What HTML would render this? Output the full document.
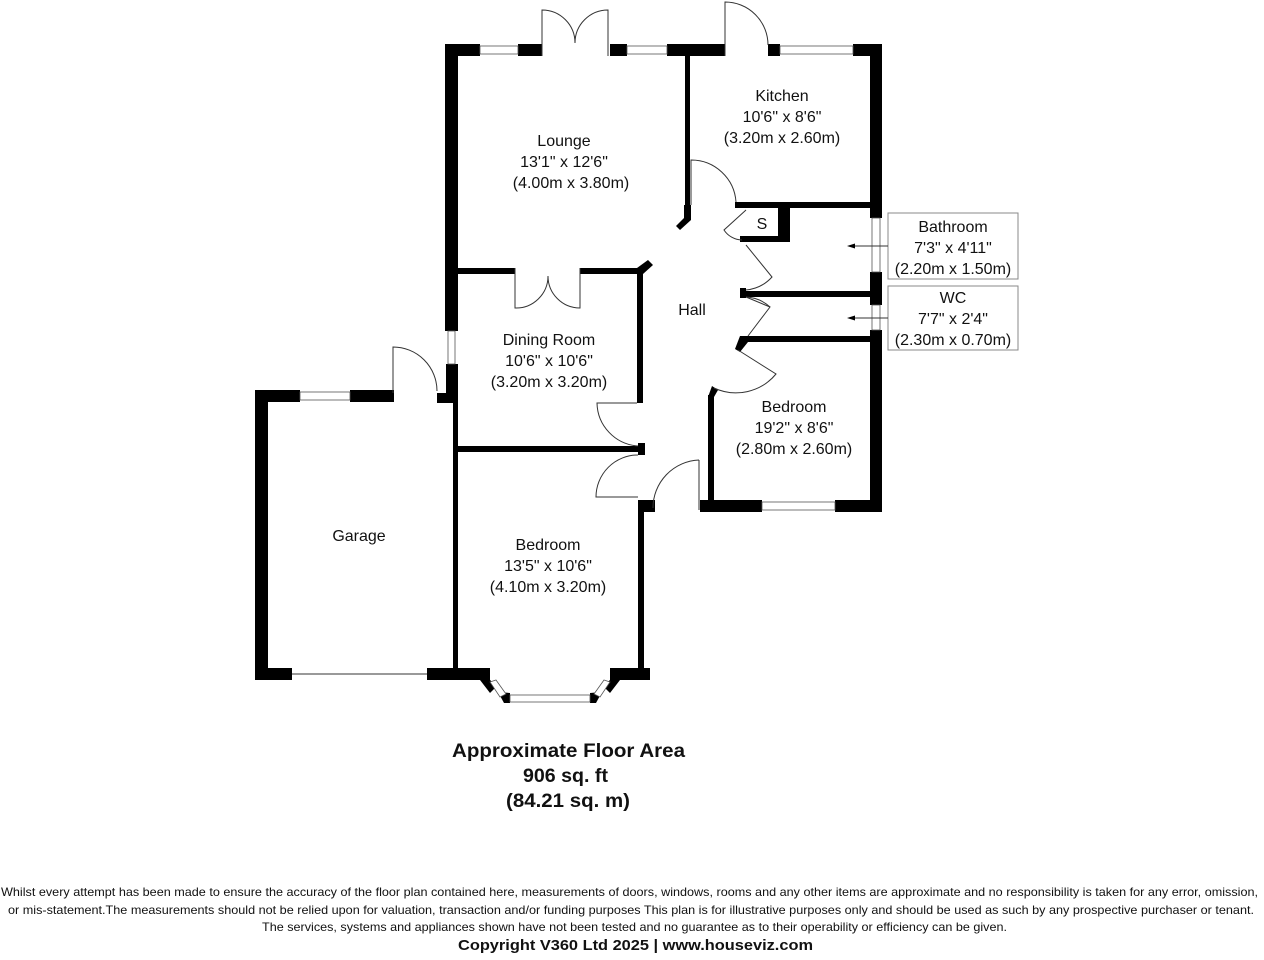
<!DOCTYPE html>
<html><head><meta charset="utf-8"><style>
html,body{margin:0;padding:0;background:#fff;}
svg{display:block;}
text{font-family:"Liberation Sans",sans-serif;fill:#111;}
</style></head><body>
<svg width="1264" height="960" viewBox="0 0 1264 960" xmlns="http://www.w3.org/2000/svg">
<g fill="#000" stroke="none">
<!-- top walls -->
<rect x="445" y="44" width="35" height="12"/>
<rect x="518" y="44" width="24" height="12"/>
<rect x="610" y="44" width="17" height="12"/>
<rect x="667" y="44" width="58" height="12"/>
<rect x="768" y="44" width="12" height="12"/>
<rect x="853" y="44" width="29" height="12"/>
<!-- right wall -->
<rect x="870" y="44" width="12" height="174"/>
<rect x="870" y="272" width="12" height="33"/>
<rect x="870" y="330" width="12" height="182"/>
<!-- bedroom bottom -->
<rect x="700" y="500" width="62" height="12"/>
<rect x="835" y="500" width="47" height="12"/>
<rect x="708" y="395" width="6" height="110"/>
<polygon points="708,397 714,397 718,390 712,386"/>
<!-- left lounge wall -->
<rect x="445" y="44" width="13" height="287"/>
<rect x="446" y="364" width="12" height="38"/>
<rect x="453" y="400" width="5" height="280"/>
<!-- lounge/kitchen partition -->
<rect x="685" y="56" width="5" height="150"/>
<polygon points="684,205 691,205 691,220 680,230 676,226 684,218"/>
<!-- kitchen bottom wall -->
<rect x="735" y="202" width="135" height="6"/>
<rect x="778" y="208" width="12" height="34"/>
<rect x="742" y="236" width="48" height="6"/>
<rect x="740" y="236" width="6" height="6"/>
<rect x="740" y="288" width="6" height="10"/>
<rect x="740" y="291" width="130" height="6"/>
<rect x="745" y="336" width="125" height="6"/>
<polygon points="740,336 748,336 748,342 740,352 735,349"/>
<!-- dining -->
<rect x="458" y="268" width="57" height="6"/>
<rect x="580" y="268" width="62" height="6"/>
<rect x="637" y="268" width="6" height="135"/>
<polygon points="637,268 648,260 653,265 643,274"/>
<rect x="458" y="446" width="187" height="6"/>
<rect x="638" y="443" width="7" height="12"/>
<!-- bedroom2 right -->
<rect x="638" y="500" width="6" height="180"/>
<rect x="638" y="500" width="17" height="12"/>
<!-- garage -->
<rect x="255" y="390" width="13" height="290"/>
<rect x="255" y="390" width="45" height="12"/>
<rect x="350" y="390" width="44" height="12"/>
<rect x="437" y="393" width="21" height="10"/>
<rect x="255" y="668" width="37" height="12"/>
<rect x="427" y="668" width="63" height="12"/>
<rect x="610" y="668" width="40" height="12"/>
<polygon points="486,675 496,687 490,693 480,680"/>
<polygon points="498,692 510,693 510,703 504,703"/>
<polygon points="590,693 602,692 596,703 590,703"/>
<polygon points="614,675 620,680 610,693 604,687"/>
</g>
<g fill="#fff" stroke="#555" stroke-width="0.8">
<!-- windows -->
<rect x="480" y="46" width="38" height="8"/>
<rect x="627" y="46" width="40" height="8"/>
<rect x="780" y="46" width="73" height="8"/>
<rect x="872" y="218" width="8" height="54"/>
<rect x="872" y="305" width="8" height="25"/>
<rect x="762" y="502" width="73" height="8"/>
<rect x="448" y="331" width="7" height="33"/>
<rect x="300" y="392" width="50" height="8"/>
<rect x="510" y="695" width="80" height="7"/>
<polygon points="490,682 496,680 506,694 500,697"/>
<polygon points="604,680 610,682 600,697 594,694"/>
</g>
<g fill="none" stroke="#333" stroke-width="1">
<line x1="292" y1="674" x2="427" y2="674"/>
<!-- lounge french doors -->
<path d="M542 56 V10 A33 33 0 0 1 575 43"/>
<path d="M608 56 V10 A33 33 0 0 0 575 43"/>
<!-- kitchen door -->
<path d="M725 56 V2 A43 43 0 0 1 768 45"/>
<!-- hall-kitchen door -->
<path d="M691 205 V160 A45 45 0 0 1 736 202"/>
<!-- S door -->
<path d="M746 210 L724 230 A22 22 0 0 0 742 240"/>
<!-- bath door -->
<path d="M746 245 L772 277 A40 40 0 0 1 746 290"/>
<!-- wc door -->
<path d="M746 297 L770 307 L748 336"/>
<path d="M746 297 A38 38 0 0 1 770 307"/>
<!-- bedroom door -->
<path d="M738 350 L776 374 A52 52 0 0 1 714 388"/>
<!-- dining french -->
<path d="M515 268 V308 A32 32 0 0 0 548 276"/>
<path d="M580 268 V308 A32 32 0 0 1 548 276"/>
<!-- dining door -->
<path d="M637 403 H597 A44 44 0 0 0 638 446"/>
<!-- bedroom2 door -->
<path d="M638 455 A42 42 0 0 0 596 497 H638"/>
<!-- hall front door -->
<path d="M699 460 V510 M699 460 A48 48 0 0 0 653 508"/>
<!-- garage door -->
<path d="M393 393 V347 A44 44 0 0 1 437 391"/>
<!-- label boxes -->
<rect x="888" y="213" width="130" height="66" stroke="#888"/>
<rect x="888" y="286" width="130" height="64" stroke="#888"/>
<line x1="888" y1="246" x2="850" y2="246"/>
<line x1="888" y1="318" x2="850" y2="318"/>
</g>
<polygon points="847,246 855,243.5 855,248.5" fill="#000"/>
<polygon points="847,318 855,315.5 855,320.5" fill="#000"/>
<g font-size="16" text-anchor="middle">
<text x="564" y="146">Lounge</text><text x="564" y="167">13'1" x 12'6"</text><text x="571" y="188">(4.00m x 3.80m)</text>
<text x="782" y="101">Kitchen</text><text x="782" y="122">10'6" x 8'6"</text><text x="782" y="143">(3.20m x 2.60m)</text>
<text x="762" y="229">S</text>
<text x="692" y="315">Hall</text>
<text x="549" y="345">Dining Room</text><text x="549" y="366">10'6" x 10'6"</text><text x="549" y="387">(3.20m x 3.20m)</text>
<text x="794" y="412">Bedroom</text><text x="794" y="433">19'2" x 8'6"</text><text x="794" y="454">(2.80m x 2.60m)</text>
<text x="359" y="541">Garage</text>
<text x="548" y="550">Bedroom</text><text x="548" y="571">13'5" x 10'6"</text><text x="548" y="592">(4.10m x 3.20m)</text>
<text x="953" y="232">Bathroom</text><text x="953" y="253">7'3" x 4'11"</text><text x="953" y="274">(2.20m x 1.50m)</text>
<text x="953" y="303">WC</text><text x="953" y="324">7'7" x 2'4"</text><text x="953" y="345">(2.30m x 0.70m)</text>
</g>
<g font-weight="bold" font-size="19" text-anchor="start">
<text x="452" y="757" textLength="233" lengthAdjust="spacingAndGlyphs">Approximate Floor Area</text>
<text x="523" y="782" textLength="85" lengthAdjust="spacingAndGlyphs">906 sq. ft</text>
<text x="506" y="807" textLength="124" lengthAdjust="spacingAndGlyphs">(84.21 sq. m)</text>
</g>
<g font-size="12">
<text x="1" y="896" textLength="1257" lengthAdjust="spacingAndGlyphs">Whilst every attempt has been made to ensure the accuracy of the floor plan contained here, measurements of doors, windows, rooms and any other items are approximate and no responsibility is taken for any error, omission,</text>
<text x="8" y="914" textLength="1246" lengthAdjust="spacingAndGlyphs">or mis-statement.The measurements should not be relied upon for valuation, transaction and/or funding purposes This plan is for illustrative purposes only and should be used as such by any prospective purchaser or tenant.</text>
<text x="262" y="931" textLength="745" lengthAdjust="spacingAndGlyphs">The services, systems and appliances shown have not been tested and no guarantee as to their operability or efficiency can be given.</text>
<text x="458" y="950" font-weight="bold" font-size="15" textLength="355" lengthAdjust="spacingAndGlyphs">Copyright V360 Ltd 2025 | www.houseviz.com</text>
</g>
</svg>
</body></html>
